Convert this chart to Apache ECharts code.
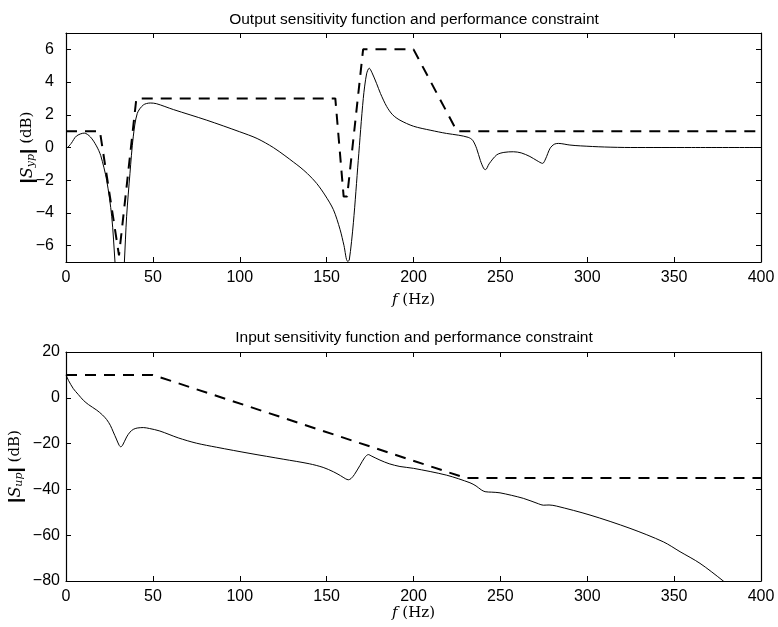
<!DOCTYPE html>
<html>
<head>
<meta charset="utf-8">
<script src="https://cdn.jsdelivr.net/npm/echarts@6/dist/echarts.min.js"></script>
<style>
  html, body { margin: 0; padding: 0; background: #fff; }
  #chart { width: 778px; height: 627px; }
</style>
</head>
<body>
<div id="chart"></div>
<script>
// top panel: output sensitivity |Syp| (dB) vs f (Hz)
const sypFreq = [1, 3, 6, 10.5, 14, 17.5, 20, 23.4, 26.3, 28.2, 29.5, 32.5, 33.6, 34.9, 36.8, 38.7, 41, 44.5, 48.5, 52,
  61.8, 81, 100, 110, 119.3, 126, 131, 134.7, 139, 144.3, 149, 153.9, 157.7, 160, 162, 163, 165.4, 168.2, 171.1, 173,
  174.5, 176, 178.8, 181, 184.6, 188, 192.2, 200, 210, 219, 226, 231.5, 234, 236.3, 238.5, 240.5, 241.5, 243.5, 247.9, 252,
  257.5, 262, 267, 271, 274.3, 276, 278.6, 281, 283.4, 290, 296, 310, 325, 360, 400];
const sypDb = [0, 0.25, 0.7, 0.88, 0.65, 0.1, -0.5, -2.0, -4.2, -7, -9, -9, -7, -4.2, -1.6, 0.65, 2.08, 2.6, 2.72, 2.68,
  2.32, 1.67, 0.96, 0.55, 0.0, -0.5, -0.9, -1.2, -1.6, -2.2, -2.9, -3.8, -5.0, -6.0, -6.95, -6.9, -4.6, -0.8, 3.0, 4.5,
  4.85, 4.6, 3.9, 3.3, 2.5, 2.0, 1.67, 1.3, 1.05, 0.86, 0.75, 0.62, 0.45, -0.05, -0.8, -1.3, -1.35, -1.0, -0.45, -0.3,
  -0.26, -0.33, -0.55, -0.8, -0.97, -0.7, -0.05, 0.2, 0.25, 0.15, 0.1, 0.03, 0.0, 0.0, 0.0];
const sypLimFreq = [0, 19.5, 30.5, 40.5, 155, 159.8, 161.8, 171, 200, 225, 400];
const sypLimDb = [1, 1, -6.6, 3, 3, -3, -3, 6, 6, 1, 1];

// bottom panel: input sensitivity |Sup| (dB) vs f (Hz)
const supFreq = [0, 1.5, 4.2, 7, 10, 13, 17.7, 21, 23.4, 25.5, 27.2, 29, 30.5, 31.5, 32.5, 34.9, 36.8, 38.7, 41, 44.5,
  48, 54, 64.6, 75, 86.7, 105.9, 125, 140, 148, 153.9, 158, 161, 162.5, 164, 166, 169.2, 172, 174, 176, 180.7,
  186, 192.2, 200, 219.1, 232.5, 236, 239, 241.2, 245, 249.8, 263.2, 272, 274.7, 278, 282.4, 301.6, 324.6, 343.8, 353.4, 364.9,
  378.3, 382];
const supDb = [10, 7.5, 4.0, 1.5, -1.1, -3, -5.4, -7.5, -9.5, -12, -14.9, -18, -20.6, -21.4, -20.8, -17.1, -15, -13.8, -13.2, -13,
  -13.4, -14.5, -17.5, -19.8, -21.6, -24.3, -26.8, -28.8, -30.4, -32.3, -34, -35.4, -35.8, -35.3, -33.5, -29.5, -26, -24.8, -25.5, -27.2,
  -28.8, -30.0, -30.8, -33.8, -37.1, -38.5, -40.2, -41, -41.2, -41.5, -43.9, -46.3, -46.9, -46.8, -47.3, -51.2, -57, -62.9, -67.2, -72.3,
  -80, -82.5];
const supLimFreq = [0, 50, 230, 400];
const supLimDb = [10, 10, -35, -35];

const sypTicks = [-6, -4, -2, 0, 2, 4, 6];
const supTicks = [-80, -60, -40, -20, 0, 20];

const zip = (a, b) => a.map((v, i) => [v, b[i]]);
const minus = v => String(v).replace('-', '\u2212');

const sansFont = "'Liberation Sans', Arial, sans-serif";
const serifFont = "'DejaVu Serif', 'Liberation Serif', serif";

const tickStyle = { inside: true, length: 5, lineStyle: { color: '#000', width: 1 } };
const lineStyle = { onZero: false, lineStyle: { color: '#000', width: 1.2 } };

function xAxes(gridIndex, nameGap) {
  return [
    {
      gridIndex, type: 'value', min: 0, max: 400, interval: 50, position: 'bottom',
      axisLine: lineStyle, axisTick: tickStyle, splitLine: { show: false },
      axisLabel: { color: '#000', fontSize: 16, fontFamily: sansFont, margin: 8 },
      name: '{i|f} (Hz)', nameLocation: 'middle', nameGap, nameMoveOverlap: false,
      nameTextStyle: {
        fontFamily: serifFont, fontSize: 15, color: '#000',
        rich: { i: { fontFamily: serifFont, fontStyle: 'italic', fontSize: 15, color: '#000' } }
      }
    },
    {
      gridIndex, type: 'value', min: 0, max: 400, interval: 50, position: 'top',
      axisLine: lineStyle, axisTick: tickStyle, splitLine: { show: false }, axisLabel: { show: false }
    }
  ];
}

function yAxes(gridIndex, min, max, ticks, sub, labelMargin, nameGap) {
  return [
    {
      gridIndex, type: 'value', min, max, position: 'left',
      axisLine: lineStyle, splitLine: { show: false },
      axisTick: Object.assign({ customValues: ticks }, tickStyle),
      axisLabel: { customValues: ticks, color: '#000', fontSize: 16, fontFamily: sansFont, margin: labelMargin, formatter: minus },
      name: '{b||}{i|S}{s|' + sub + '}{b||} (dB)', nameLocation: 'middle', nameRotate: 90,
      nameGap, nameMoveOverlap: false,
      nameTextStyle: {
        fontFamily: serifFont, fontSize: 15, color: '#000',
        rich: {
          b: { fontFamily: sansFont, fontWeight: 'bold', fontSize: 19, color: '#000' },
          i: { fontFamily: serifFont, fontStyle: 'italic', fontSize: 16, color: '#000' },
          s: { fontFamily: serifFont, fontStyle: 'italic', fontSize: 11, color: '#000', padding: [7, 0, 0, 0] }
        }
      }
    },
    {
      gridIndex, type: 'value', min, max, position: 'right',
      axisLine: lineStyle, splitLine: { show: false },
      axisTick: Object.assign({ customValues: ticks }, tickStyle),
      axisLabel: { show: false }
    }
  ];
}

const chart = echarts.init(document.getElementById('chart'));
chart.setOption({
  backgroundColor: '#fff',
  animation: false,
  title: [
    {
      text: 'Output sensitivity function and performance constraint',
      left: 409, top: 7, textAlign: 'center',
      textStyle: { fontFamily: sansFont, fontSize: 15.5, fontWeight: 'normal', color: '#000' }
    },
    {
      text: 'Input sensitivity function and performance constraint',
      left: 409, top: 325, textAlign: 'center',
      textStyle: { fontFamily: sansFont, fontSize: 15.5, fontWeight: 'normal', color: '#000' }
    }
  ],
  grid: [
    { left: 66, top: 33, width: 695, height: 229, outerBoundsMode: 'none' },
    { left: 66, top: 352, width: 695, height: 229, outerBoundsMode: 'none' }
  ],
  xAxis: xAxes(0, 31).concat(xAxes(1, 25)),
  yAxis: yAxes(0, -7, 7, sypTicks, 'yp', 12, 29).concat(yAxes(1, -80, 20, supTicks, 'up', 6, 41)),
  series: [
    {
      type: 'line', xAxisIndex: 0, yAxisIndex: 0, data: zip(sypFreq, sypDb),
      showSymbol: false, smooth: 0.3, clip: true,
      lineStyle: { color: '#000', width: 1 }
    },
    {
      type: 'line', xAxisIndex: 0, yAxisIndex: 0, data: zip(sypLimFreq, sypLimDb),
      showSymbol: false, clip: true,
      lineStyle: { color: '#000', width: 2, type: [11, 8] }
    },
    {
      type: 'line', xAxisIndex: 2, yAxisIndex: 2, data: zip(supFreq, supDb),
      showSymbol: false, smooth: 0.3, clip: true,
      lineStyle: { color: '#000', width: 1 }
    },
    {
      type: 'line', xAxisIndex: 2, yAxisIndex: 2, data: zip(supLimFreq, supLimDb),
      showSymbol: false, clip: true,
      lineStyle: { color: '#000', width: 2, type: [11, 8] }
    }
  ]
});
</script>
</body>
</html>
